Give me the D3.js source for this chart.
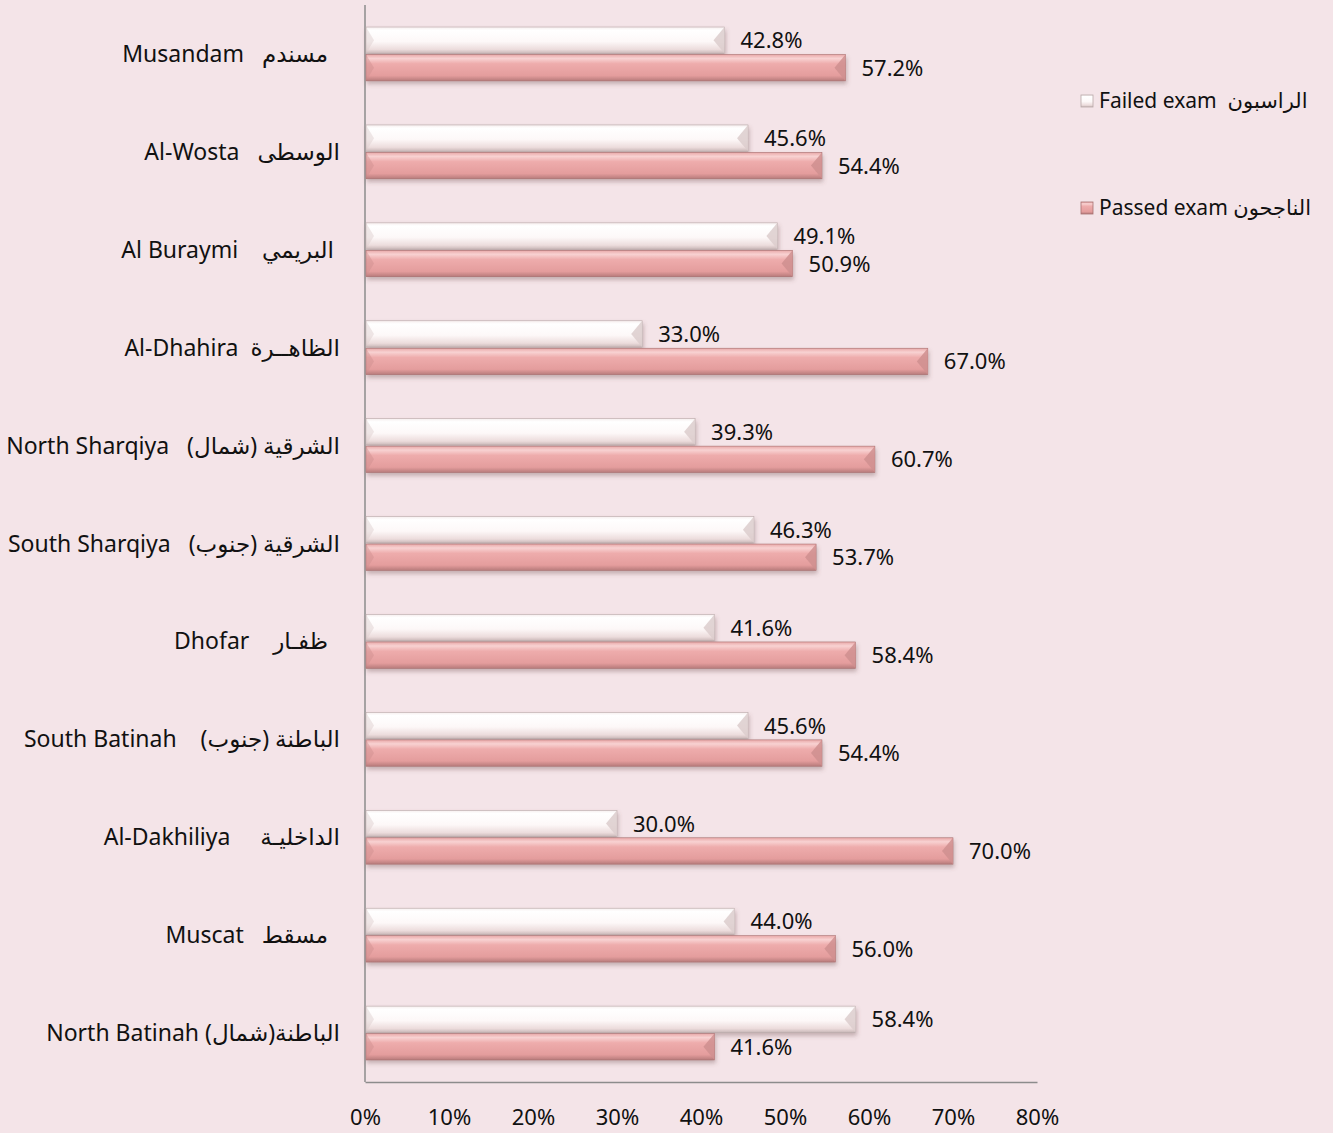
<!DOCTYPE html>
<html>
<head>
<meta charset="utf-8">
<script src="https://cdn.jsdelivr.net/npm/d3@7"></script>
<style>
  body { margin: 0; background: #f4e4e8; }
  svg text { font-family: "Noto Sans", "DejaVu Sans", sans-serif; fill: #111; white-space: pre; }
</style>
</head>
<body>
<script>
// Regions, top to bottom, with English and Arabic names
var regions = [
  "Musandam   \u200Fمسندم\u200F  ",
  "Al-Wosta   \u200Fالوسطى\u200F",
  "Al Buraymi    \u200Fالبريمي\u200F ",
  "Al-Dhahira  \u200Fالظاهــرة\u200F",
  "North Sharqiya   \u200Fالشرقية (شمال)\u200F",
  "South Sharqiya   \u200Fالشرقية (جنوب)\u200F",
  "Dhofar    \u200Fظفـار\u200F  ",
  "South Batinah    \u200Fالباطنة (جنوب)\u200F",
  "Al-Dakhiliya     \u200Fالداخليـة\u200F",
  "Muscat   \u200Fمسقط\u200F  ",
  "North Batinah \u200Fالباطنة(شمال)\u200F"
]
var failed = [42.8, 45.6, 49.1, 33.0, 39.3, 46.3, 41.6, 45.6, 30.0, 44.0, 58.4]
var passed = [57.2, 54.4, 50.9, 67.0, 60.7, 53.7, 58.4, 54.4, 70.0, 56.0, 41.6]
var xTicks = [0, 10, 20, 30, 40, 50, 60, 70, 80]
var seriesNames = ["failed", "passed"]
var legendLabels = ["Failed exam  \u200Fالراسبون\u200F", "Passed exam \u200Fالناجحون\u200F"]

var width = 1333, height = 1133
var margin = {top: 5, right: 296, bottom: 51, left: 365}

var svg = d3.select("body")
    .append("svg")
        .attr("width", width)
        .attr("height", height)

svg.append("rect")
    .attr("width", width).attr("height", height)
    .attr("fill", "#f4e4e8")

var defs = svg.append("defs")

// bevel-ish gradients
var gFail = defs.append("linearGradient").attr("id", "gFail")
    .attr("x1", 0).attr("y1", 0).attr("x2", 0).attr("y2", 1)
gFail.append("stop").attr("offset", "0%").attr("stop-color", "#f6eeee")
gFail.append("stop").attr("offset", "12%").attr("stop-color", "#ffffff")
gFail.append("stop").attr("offset", "55%").attr("stop-color", "#fdf8f8")
gFail.append("stop").attr("offset", "85%").attr("stop-color", "#ecdcdc")
gFail.append("stop").attr("offset", "100%").attr("stop-color", "#c9b7b7")

var gPass = defs.append("linearGradient").attr("id", "gPass")
    .attr("x1", 0).attr("y1", 0).attr("x2", 0).attr("y2", 1)
gPass.append("stop").attr("offset", "0%").attr("stop-color", "#e9a8a8")
gPass.append("stop").attr("offset", "15%").attr("stop-color", "#f8d2d2")
gPass.append("stop").attr("offset", "35%").attr("stop-color", "#eeacac")
gPass.append("stop").attr("offset", "80%").attr("stop-color", "#e49d9d")
gPass.append("stop").attr("offset", "100%").attr("stop-color", "#b77b7b")

var shadow = defs.append("filter").attr("id", "shadow")
    .attr("x", "-5%").attr("y", "-20%").attr("width", "110%").attr("height", "160%")
shadow.append("feDropShadow")
    .attr("dx", 1).attr("dy", 3).attr("stdDeviation", 2)
    .attr("flood-color", "#6b4a4a").attr("flood-opacity", 0.35)

var fills = {failed: "url(#gFail)", passed: "url(#gPass)"}
var bevels = {failed: "#dccdcd", passed: "#cf8f8f"}
var strokes = {failed: "#b8a8a8", passed: "#a87070"}

// scales
var x = d3.scaleLinear().domain([0, 80]).range([margin.left, width - margin.right])
var y = d3.scaleBand().domain(d3.range(regions.length))
    .range([margin.top, height - margin.bottom])
    .paddingInner(0.45).paddingOuter(0.225)
var ySub = d3.scaleBand().domain(seriesNames).range([0, y.bandwidth()]).paddingInner(0.04)

var data = regions.map(function(r, i) {
  return {i: i, name: r, values: {failed: failed[i], passed: passed[i]}}
})

// axes lines
svg.append("line")
    .attr("x1", x(0)).attr("x2", x(0))
    .attr("y1", margin.top).attr("y2", height - margin.bottom)
    .attr("stroke", "#8c8c8c").attr("stroke-width", 1.5)

var xAxis = d3.axisBottom(x).tickValues(xTicks).tickSize(0)
    .tickFormat(function(d) { return d + "%" })
var gx = svg.append("g")
    .attr("transform", "translate(0," + (height - margin.bottom) + ")")
    .call(xAxis)
gx.select(".domain").attr("stroke", "#8c8c8c").attr("stroke-width", 1.5)
gx.selectAll("text")
    .attr("dy", "1.2em").attr("y", 17)
    .style("font-size", "22px")
    .style("font-family", "\"Noto Sans\", sans-serif")
    .attr("fill", "#111")

// category labels
svg.selectAll(".cat")
    .data(data)
  .enter().append("text")
    .attr("class", "cat")
    .attr("x", 340)
    .attr("y", function(d) { return y(d.i) + y.bandwidth() / 2 + 8 })
    .attr("text-anchor", "end")
    .style("font-size", "23px")
    .text(function(d) { return d.name })

// bars
var groups = svg.selectAll(".grp")
    .data(data)
  .enter().append("g")
    .attr("class", "grp")
    .attr("transform", function(d) { return "translate(0," + y(d.i) + ")" })

seriesNames.forEach(function(s) {
  var bar = groups.append("g").attr("filter", "url(#shadow)")
  bar.append("rect")
      .attr("x", x(0) + 1)
      .attr("y", ySub(s))
      .attr("width", function(d) { return x(d.values[s]) - x(0) - 1 })
      .attr("height", ySub.bandwidth())
      .attr("fill", fills[s])
      .attr("stroke", strokes[s]).attr("stroke-width", 0.6)
  // right bevel facet
  bar.append("path")
      .attr("d", function(d) {
        var x1 = x(d.values[s]), y0 = ySub(s), h = ySub.bandwidth(), b = 11
        return "M" + x1 + "," + y0 + "L" + (x1 - b) + "," + (y0 + h / 2) + "L" + x1 + "," + (y0 + h) + "Z"
      })
      .attr("fill", bevels[s]).attr("opacity", 0.85)
  // left bevel facet
  bar.append("path")
      .attr("d", function(d) {
        var x0 = x(0) + 1, y0 = ySub(s), h = ySub.bandwidth(), b = 8
        return "M" + x0 + "," + y0 + "L" + (x0 + b) + "," + (y0 + h / 2) + "L" + x0 + "," + (y0 + h) + "Z"
      })
      .attr("fill", bevels[s]).attr("opacity", 0.45)

  groups.append("text")
      .attr("x", function(d) { return x(d.values[s]) + 16 })
      .attr("y", function(d) { return ySub(s) + ySub.bandwidth() / 2 + 8 })
      .style("font-size", "22px")
      .text(function(d) { return d.values[s].toFixed(1) + "%" })
})

// legend
var legend = svg.selectAll(".leg")
    .data(seriesNames)
  .enter().append("g")
    .attr("class", "leg")
    .attr("transform", function(d, i) { return "translate(1081," + (95 + i * 107) + ")" })
legend.append("rect")
    .attr("width", 12).attr("height", 12)
    .attr("fill", function(d) { return fills[d] })
    .attr("stroke", function(d) { return strokes[d] }).attr("stroke-width", 0.8)
legend.append("text")
    .attr("x", 18).attr("y", 13)
    .style("font-size", "21px")
    .text(function(d, i) { return legendLabels[i] })
</script>
</body>
</html>
